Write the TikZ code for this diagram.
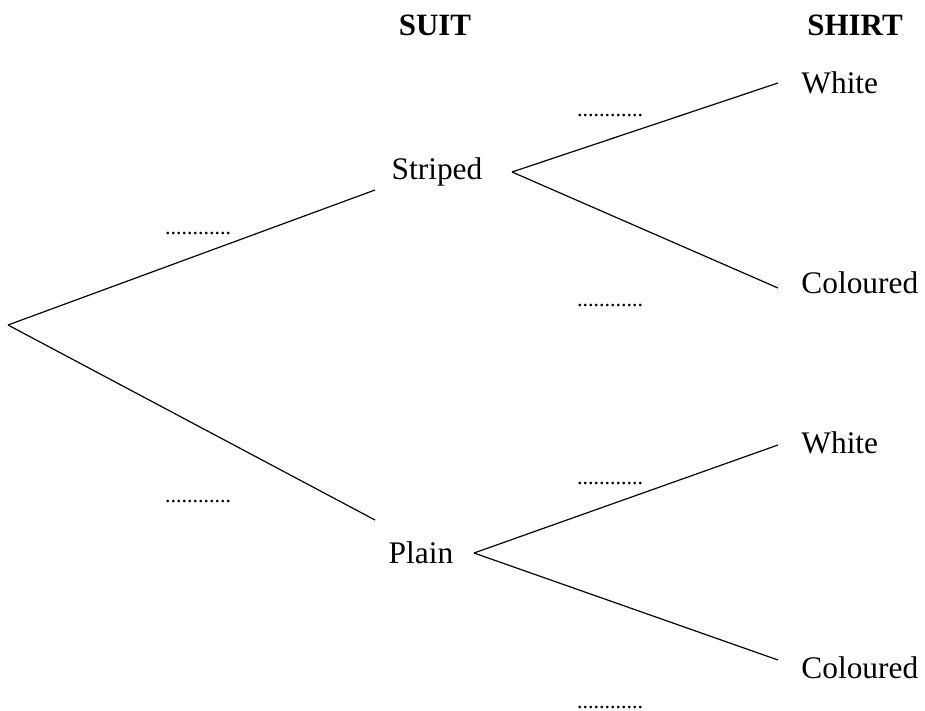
\documentclass[tikz,border=0pt]{standalone}
\usepackage{fontspec}
\setmainfont{Liberation Serif}
\usetikzlibrary{positioning}

\begin{document}
\begin{tikzpicture}[
    x=0.5pt, y=-0.5pt,
    label/.style={
        inner sep=0pt, font=\fontsize{15.7pt}{18pt}\selectfont, text=black
    },
    header/.style={
        inner sep=0pt, font=\fontsize{15.5pt}{18pt}\selectfont\bfseries, text=black
    },
    blank/.style={
        inner sep=0pt, font=\fontsize{11pt}{13pt}\selectfont, text=black
    },
    branch/.style={
        line width=0.6pt, draw=black
    }
]

\useasboundingbox (0,0) rectangle (925,711);

% ==================== HEADERS ====================
\node[header] (hsuit) at (435, 25) {SUIT};
\node[header] (hshirt) at (855, 25) {SHIRT};

% ==================== SUIT ====================
\coordinate (root) at (8, 325);
\node[label] (striped) at (437, 172) {Striped};
\node[label] (plain) at (421, 553) {Plain};
\coordinate (stripedin) at (375, 190);
\coordinate (plainin) at (375, 520);

\draw[branch] (root) -- (stripedin);
\draw[branch] (root) -- (plainin);

\node[blank] (p1) at (198, 234) {............};
\node[blank] (p2) at (198, 502) {............};

% ==================== SHIRT ====================
\coordinate (stripedout) at (512, 172);
\coordinate (plainout) at (474, 553);

\node[label, anchor=west] (sw) at (801, 83) {White};
\node[label, anchor=west] (sc) at (801, 283) {Coloured};
\node[label, anchor=west] (pw) at (801, 443) {White};
\node[label, anchor=west] (pc) at (801, 668) {Coloured};

\coordinate (swin) at (778, 83);
\coordinate (scin) at (778, 288);
\coordinate (pwin) at (778, 445);
\coordinate (pcin) at (778, 660);

\draw[branch] (stripedout) -- (swin);
\draw[branch] (stripedout) -- (scin);
\draw[branch] (plainout) -- (pwin);
\draw[branch] (plainout) -- (pcin);

\node[blank] (p3) at (610, 116) {............};
\node[blank] (p4) at (610, 306) {............};
\node[blank] (p5) at (610, 484) {............};
\node[blank] (p6) at (610, 708) {............};

\end{tikzpicture}
\end{document}
